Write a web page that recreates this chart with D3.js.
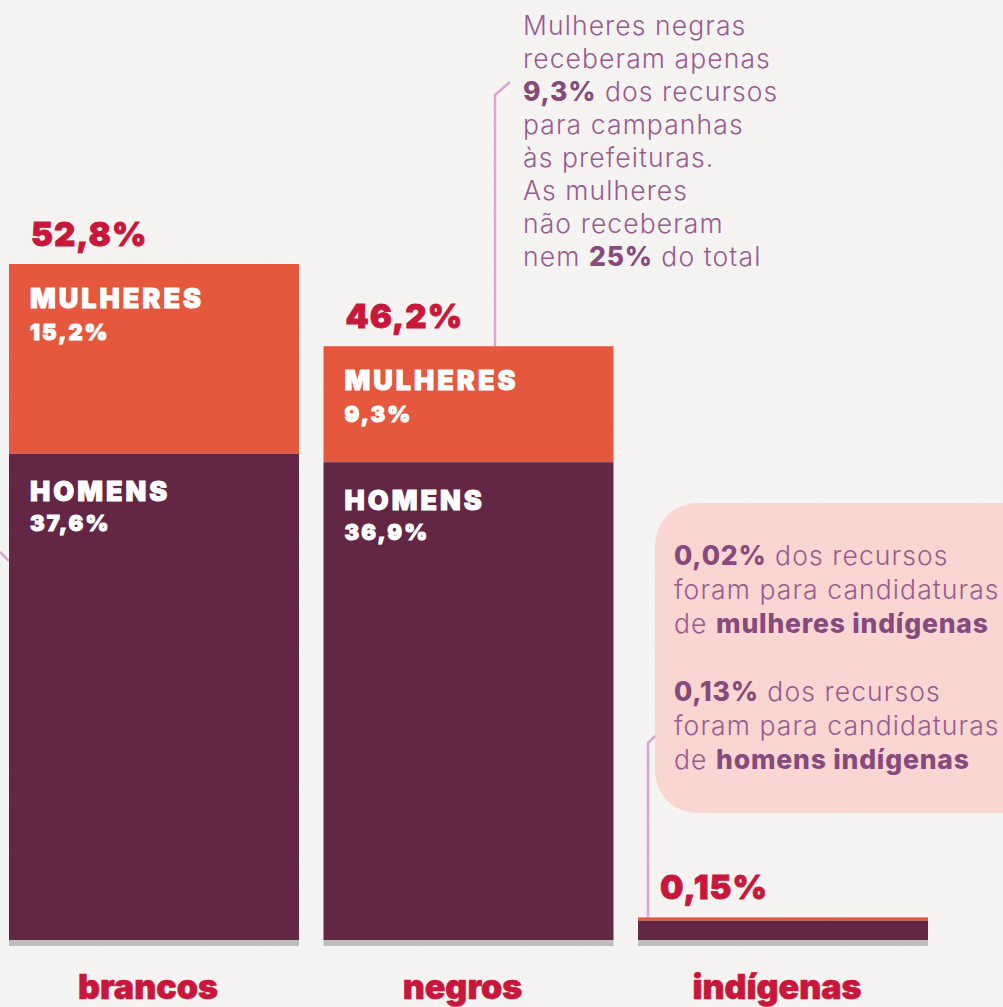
<!DOCTYPE html>
<html>
<head>
<meta charset="utf-8">
<script src="https://cdn.jsdelivr.net/npm/d3@7"></script>
<style>
  html, body { margin: 0; padding: 0; background: #f6f5f3; }
  svg { display: block; }
  .light { font-family: "Inter", "Open Sans", sans-serif; font-weight: 300; fill: #9a5b8e; letter-spacing: 1.1px; }
  .bold { font-weight: 800; fill: #874a7d; letter-spacing: 0.8px; }
  .heavy { font-family: "Inter", "Roboto", sans-serif; font-weight: 900; }
</style>
</head>
<body>
<svg id="chart"></svg>
<script>
// data
const categories = ["brancos", "negros", "indígenas"];
const homens = [37.6, 36.9, 0.13];
const mulheres = [15.2, 9.3, 0.02];
const totais = [52.8, 46.2, 0.15];
const segmentLabels = ["MULHERES", "HOMENS"];

// annotation texts, each line is a list of [text, bold?]
const notaNegros = [
  [["Mulheres negras", false]],
  [["receberam apenas", false]],
  [["9,3%", true], [" dos recursos", false]],
  [["para campanhas", false]],
  [["às prefeituras.", false]],
  [["As mulheres", false]],
  [["não receberam", false]],
  [["nem ", false], ["25%", true], [" do total", false]]
];
const notaIndigenas = [
  [["0,02%", true], [" dos recursos", false]],
  [["foram para candidaturas", false]],
  [["de ", false], ["mulheres indígenas", true]],
  null,
  [["0,13%", true], [" dos recursos", false]],
  [["foram para candidaturas", false]],
  [["de ", false], ["homens indígenas", true]]
];

const W = 1003, H = 1007;
const baseline = 940;
const fmt = v => String(v).replace(".", ",") + "%";

const svg = d3.select("#chart").attr("width", W).attr("height", H);

// paper texture
const defs = svg.append("defs");
const f = defs.append("filter").attr("id", "paper");
f.append("feTurbulence").attr("type", "fractalNoise").attr("baseFrequency", 0.8).attr("numOctaves", 2).attr("seed", 3);
f.append("feColorMatrix").attr("type", "saturate").attr("values", 0);
svg.append("rect").attr("width", W).attr("height", H).attr("fill", "#f6f5f3");
svg.append("rect").attr("width", W).attr("height", H).attr("filter", "url(#paper)").attr("opacity", 0.05);

const x = d3.scaleBand()
    .domain(categories)
    .range([9, 928])
    .paddingInner(0.078);

const y = d3.scaleLinear()
    .domain([0, d3.max(totais)])
    .range([922, 264]);

const rows = categories.map((c, i) => {
    const yHom = y(homens[i]);
    // keep tiny segments visible
    const yTop = Math.min(y(homens[i] + mulheres[i]), yHom - 3);
    return {cat: c, h: homens[i], m: mulheres[i], t: totais[i], yHom: yHom, yTop: yTop};
});
const byCat = {};
rows.forEach(d => byCat[d.cat] = d);

// annotation lines
const line = d3.line();
const annot = svg.append("g")
    .attr("fill", "none")
    .attr("stroke", "#d9a6ce")
    .attr("stroke-width", 2.5);

annot.append("path")
    .attr("d", line([[0, 552], [x("brancos"), 561]]));
annot.append("path")
    .attr("d", line([[495, byCat["negros"].yTop], [495, 95], [510, 82]]));

// pink box for indigenas
svg.append("rect")
    .attr("x", 655).attr("y", 503)
    .attr("width", 420).attr("height", 310)
    .attr("rx", 42)
    .attr("fill", "#f9d6d1");

annot.raise();
annot.append("path")
    .attr("d", line([[x("indígenas") + 10, byCat["indígenas"].yTop], [x("indígenas") + 10, 743], [655, 736]]));

function writeLines(lines, x0, y0, lh) {
    const t = svg.append("text").attr("class", "light").attr("font-size", 26.5);
    lines.forEach((ln, i) => {
        if (!ln) return;
        ln.forEach((part, j) => {
            const s = t.append("tspan").text(part[0]).attr("class", part[1] ? "bold" : null);
            if (j === 0) s.attr("x", x0).attr("y", y0 + i * lh);
        });
    });
}
writeLines(notaNegros, 523, 35, 33);
writeLines(notaIndigenas, 674, 565, 34);

// bars
const bars = svg.append("g").selectAll("g.bar")
    .data(rows)
    .enter().append("g")
    .attr("class", "bar");

bars.append("rect")
    .attr("x", d => x(d.cat))
    .attr("y", baseline)
    .attr("width", x.bandwidth())
    .attr("height", 6)
    .attr("fill", "#bebebe");

bars.append("rect")
    .attr("x", d => x(d.cat))
    .attr("y", d => d.yHom)
    .attr("width", x.bandwidth())
    .attr("height", d => baseline - d.yHom)
    .attr("fill", "#632745");

bars.append("rect")
    .attr("x", d => x(d.cat))
    .attr("y", d => d.yTop)
    .attr("width", x.bandwidth())
    .attr("height", d => d.yHom - d.yTop)
    .attr("fill", "#e5583d");

// total labels
bars.append("text")
    .attr("class", "heavy")
    .attr("x", d => x(d.cat) + 22)
    .attr("y", d => d.yTop - 18)
    .attr("font-size", 33)
    .attr("letter-spacing", 1)
    .attr("fill", "#c8173a")
    .attr("stroke", "#c8173a")
    .attr("stroke-width", 0.8)
    .text(d => fmt(d.t));

// segment labels, only where the bar is tall enough
const big = bars.filter(d => d.yHom - d.yTop > 60);

function segLabel(sel, yFn, size, spacing, txt) {
    sel.append("text")
        .attr("class", "heavy")
        .attr("x", d => x(d.cat) + 21)
        .attr("y", yFn)
        .attr("font-size", size)
        .attr("letter-spacing", spacing)
        .attr("fill", "#fff")
        .attr("stroke", "#fff")
        .attr("stroke-width", 0.9)
        .text(txt);
}
segLabel(big, d => d.yTop + 44, 27, 3, segmentLabels[0]);
segLabel(big, d => d.yTop + 76, 22, 2, d => fmt(d.m));
segLabel(big, d => d.yHom + 48, 27, 3, segmentLabels[1]);
segLabel(big, d => d.yHom + 78, 22, 2, d => fmt(d.h));

// category labels
bars.append("text")
    .attr("class", "heavy")
    .attr("x", d => x(d.cat) + x.bandwidth() / 2 - 6)
    .attr("y", 999)
    .attr("text-anchor", "middle")
    .attr("font-size", 34)
    .attr("font-weight", 800)
    .attr("fill", "#c8173a")
    .attr("stroke", "#c8173a")
    .attr("stroke-width", 0.6)
    .text(d => d.cat);
</script>
</body>
</html>
